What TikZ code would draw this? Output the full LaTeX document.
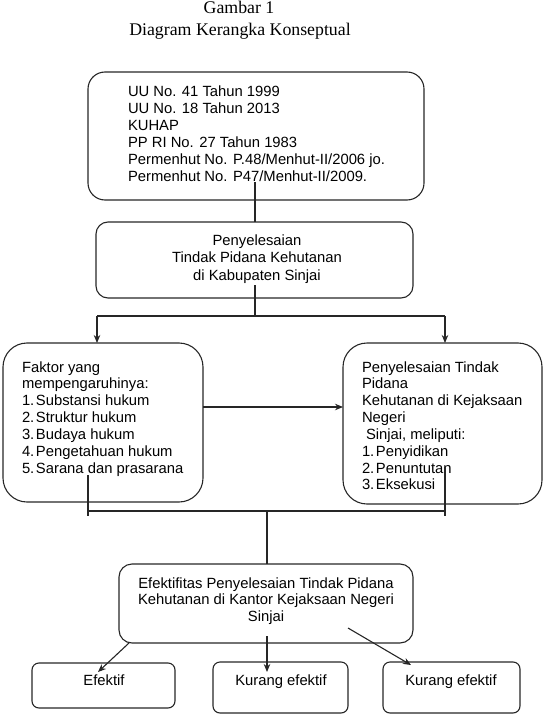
\documentclass[tikz,border=0pt]{standalone}
\usepackage{fontspec}
\setmainfont{Liberation Serif}
\newfontfamily\arialf{Liberation Sans}
\usetikzlibrary{arrows.meta}
\newcommand{\bodyfont}{\arialf\fontsize{14.8bp}{16.85bp}\selectfont}
\newcommand{\itm}[1]{\makebox[14bp][l]{#1}}
\begin{document}
\begin{tikzpicture}[x=1bp,y=-1bp,
  every node/.style={inner sep=0pt, outer sep=0pt},
  rbox/.style={draw=black!85, line width=1.1bp, minimum width=#1},
  conn/.style={draw=black!85, line width=1.1bp},
  arr/.style={conn, -{Stealth[length=8bp,width=6.5bp]}},
  btext/.style={font=\bodyfont, align=left, anchor=north west},
  ctext/.style={font=\bodyfont, align=center, anchor=north}]
\useasboundingbox (0,0) rectangle (548,714);

% title
\node[font=\fontsize{17.8bp}{21bp}\selectfont, anchor=base] (g1) at (239,14) {Gambar 1};
\node[font=\fontsize{17.8bp}{21bp}\selectfont, anchor=base] (g2) at (240,36) {Diagram Kerangka Konseptual};

% boxes
\node[rbox=336bp, minimum height=128bp, rounded corners=17bp] (b1) at (256,136) {};
\node[rbox=317bp, minimum height=76bp, rounded corners=12bp] (b2) at (254.5,260) {};
\node[rbox=200bp, minimum height=159bp, rounded corners=24bp] (lb) at (103,422.5) {};
\node[rbox=199bp, minimum height=161bp, rounded corners=24bp] (rb) at (442.5,423.5) {};
\node[rbox=294bp, minimum height=79bp, rounded corners=13bp] (eb) at (266,603.5) {};
\node[rbox=143bp, minimum height=45bp, rounded corners=7bp] (o1) at (103.5,685.5) {};
\node[rbox=135bp, minimum height=51bp, rounded corners=7bp] (o2) at (280.5,687.5) {};
\node[rbox=137bp, minimum height=51bp, rounded corners=7bp] (o3) at (451.5,687.5) {};

% texts
\node[btext] (t1) at (128,85.2) {\strut UU No. 41 Tahun 1999\\UU No. 18 Tahun 2013\\KUHAP\\PP RI No. 27 Tahun 1983\\Permenhut No. P.48/Menhut-II/2006 jo.\\Permenhut No. P47/Menhut-II/2009.};
\node[ctext, font=\arialf\fontsize{14.8bp}{17.5bp}\selectfont] (t2) at (257,232.75) {\strut Penyelesaian\\Tindak Pidana Kehutanan\\di Kabupaten Sinjai};
\node[btext] (tl) at (22,360.2) {\strut Faktor yang\\mempengaruhinya:\\\itm{1.}Substansi hukum\\\itm{2.}Struktur hukum\\\itm{3.}Budaya hukum\\\itm{4.}Pengetahuan hukum\\\itm{5.}Sarana dan prasarana};
\node[btext] (tr) at (362,360.2) {\strut Penyelesaian Tindak\\Pidana\\Kehutanan di Kejaksaan\\Negeri\\\hspace*{4bp}Sinjai, meliputi:\\\itm{1.}Penyidikan\\\itm{2.}Penuntutan\\\itm{3.}Eksekusi};
\node[ctext] (te) at (266,576.2) {\strut Efektifitas Penyelesaian Tindak Pidana\\Kehutanan di Kantor Kejaksaan Negeri\\Sinjai};
\node[font=\bodyfont, anchor=base] (to1) at (104,685) {Efektif};
\node[font=\bodyfont, anchor=base] (to2) at (281,685) {Kurang efektif};
\node[font=\bodyfont, anchor=base] (to3) at (451,685) {Kurang efektif};

% connectors
\coordinate (c1) at (255,182);
\draw[conn] (c1) -- (c1 |- b2.north);
\coordinate (c2) at (255,285);
\coordinate (cm) at (255,316);
\coordinate (cl) at (97,316);
\coordinate (cr) at (445,316);
\draw[conn] (c2) -- (cm);
\draw[conn] (cl) -- (cr);
\draw[arr] (cl) -- (cl |- lb.north);
\draw[arr] (cr) -- (cr |- rb.north);
\coordinate (ha) at (0,407);
\draw[arr] (lb.east |- ha) -- (rb.west |- ha);

\coordinate (k1) at (88,475);
\coordinate (k2) at (445,467);
\coordinate (kl) at (88,511);
\coordinate (kr) at (445,511);
\coordinate (km) at (267,511);
\draw[conn] (k1) -- (88,516);
\draw[conn] (k2) -- (445,516);
\draw[conn] (kl) -- (kr);
\draw[conn] (km) -- (km |- eb.north);

\coordinate (e1) at (129,643);
\coordinate (f1) at (98,672);
\coordinate (e2) at (267,636);
\coordinate (f2) at (267,672);
\coordinate (e3) at (348,628);
\coordinate (f3) at (411,665);
\draw[arr] (e1) -- (f1);
\draw[arr] (e2) -- (f2);
\draw[arr] (e3) -- (f3);
\end{tikzpicture}
\end{document}
